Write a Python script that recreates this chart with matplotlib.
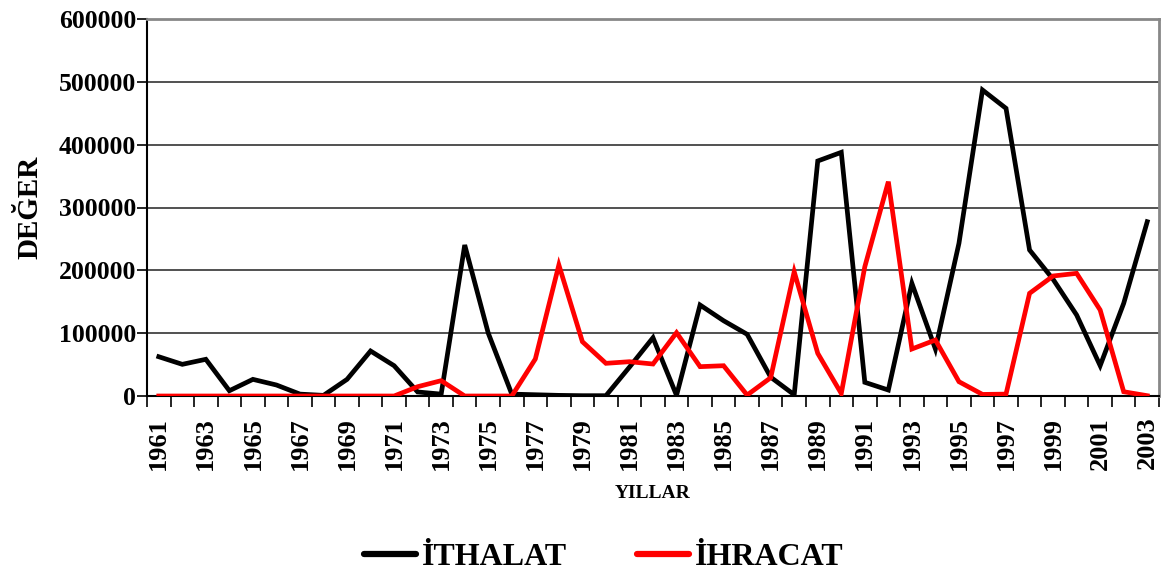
import matplotlib
matplotlib.use("Agg")
import matplotlib.pyplot as plt
from matplotlib.ticker import FixedLocator, MultipleLocator

years = list(range(1961, 2004))
ithalat = [62500, 50400, 58400, 8400, 26500, 17500, 3000, 1000, 26500, 71600,
           48200, 6400, 3000, 240300, 100000, 3000, 2000, 1000, 500, 500,
           46000, 92800, 1000, 144800, 119800, 98200, 30000, 2000, 374000, 387800,
           21800, 9500, 179300, 74800, 243000, 487000, 457800, 232400, 185700, 128900,
           48300, 147500, 277400]
ihracat = [0, 0, 0, 0, 0, 0, 0, 0, 0, 0,
           0, 14800, 24400, 0, 0, 0, 58900, 208500, 86400, 52000,
           54600, 50900, 100800, 46700, 48200, 1500, 29100, 197800, 67900, 4000,
           205800, 341100, 74800, 89100, 22800, 2500, 3000, 163400, 191000, 195200,
           136900, 6800, 500]
series_names = ["İTHALAT", "İHRACAT"]
series_colors = ["#000000", "#ff0000"]

plt.rcParams['font.family'] = ['Liberation Serif', 'DejaVu Serif']
plt.rcParams['font.weight'] = 'bold'

fig = plt.figure(figsize=(11.61, 5.77), dpi=100)
ax = fig.add_axes([147/1161, 1-396/577, (1159-147)/1161, (396-19)/577])

x = list(range(len(years)))
ax.plot(x, ithalat, color=series_colors[0], lw=3.4, label=series_names[0], solid_joinstyle='miter', zorder=3)
ax.plot(x, ihracat, color=series_colors[1], lw=3.4, label=series_names[1], solid_joinstyle='miter', zorder=3)

ax.set_xlim(-0.5, len(years) - 0.5)
ax.set_ylim(0, 600000)
ax.yaxis.set_major_locator(MultipleLocator(100000))
ax.grid(axis='y', color='#333333', lw=1.2, zorder=0)

label_pos = [i for i in x if i % 2 == 0]
ax.set_xticks(label_pos)
ax.set_xticklabels([str(years[i]) for i in label_pos], rotation=90, fontsize=19, fontweight='bold')
ax.tick_params(axis='x', which='major', length=0, pad=15)
ax.xaxis.set_minor_locator(FixedLocator([i - 0.5 for i in range(len(years) + 1)]))
ax.tick_params(axis='x', which='minor', length=8, width=1.2, color='black', direction='out')
ax.tick_params(axis='y', length=7, width=1.2, direction='out', labelsize=18.5, pad=1)
for lbl in ax.get_yticklabels():
    lbl.set_fontweight('bold')

for s in ['left', 'bottom']:
    ax.spines[s].set_color('black')
    ax.spines[s].set_linewidth(1.5)
for s in ['top', 'right']:
    ax.spines[s].set_color('#888888')
    ax.spines[s].set_linewidth(2)

fig.text(30/1161, 1-207/577, "DEĞER", rotation=90, ha='center', va='center', fontsize=21, fontweight='bold')
fig.text(653/1161, 1-493/577, "YILLAR", ha='center', va='center', fontsize=14, fontweight='bold')

leg = fig.legend(loc='center', bbox_to_anchor=(604/1161, 1-557/577), ncol=2, frameon=False,
                 prop={'size': 23, 'weight': 'bold'}, handlelength=1.6, handletextpad=0.2, columnspacing=2.2)
for h in leg.get_lines():
    h.set_linewidth(4.5)
    h.set_solid_capstyle('round')

fig.savefig("out.png", dpi=100)
